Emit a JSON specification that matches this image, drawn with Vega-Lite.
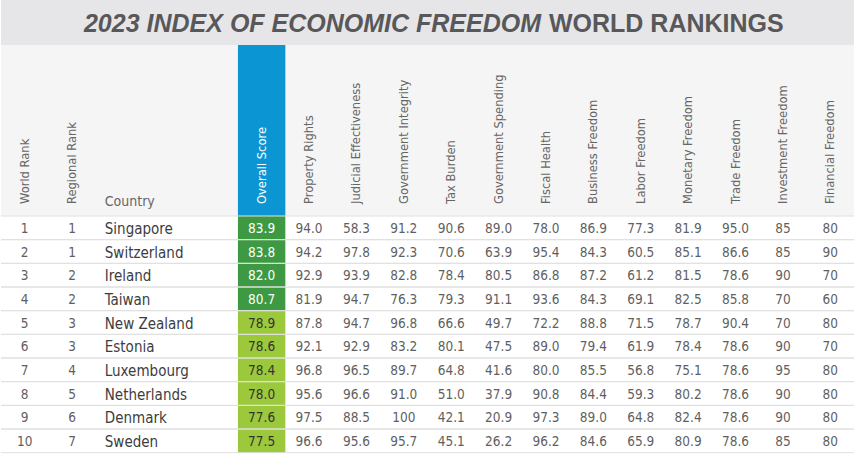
{
  "$schema": "https://vega.github.io/schema/vega-lite/v6.json",
  "padding": 0,
  "background": "white",
  "spacing": 0,
  "bounds": "flush",
  "config": {"view": {"stroke": null}, "text": {"font": "DejaVu Sans Condensed, Liberation Sans, sans-serif"}},
  "datasets": {
    "rows": [
      {"World Rank": 1, "Regional Rank": 1, "Country": "Singapore", "Overall Score": 83.9, "Property Rights": 94.0, "Judicial Effectiveness": 58.3, "Government Integrity": 91.2, "Tax Burden": 90.6, "Government Spending": 89.0, "Fiscal Health": 78.0, "Business Freedom": 86.9, "Labor Freedom": 77.3, "Monetary Freedom": 81.9, "Trade Freedom": 95.0, "Investment Freedom": 85, "Financial Freedom": 80},
      {"World Rank": 2, "Regional Rank": 1, "Country": "Switzerland", "Overall Score": 83.8, "Property Rights": 94.2, "Judicial Effectiveness": 97.8, "Government Integrity": 92.3, "Tax Burden": 70.6, "Government Spending": 63.9, "Fiscal Health": 95.4, "Business Freedom": 84.3, "Labor Freedom": 60.5, "Monetary Freedom": 85.1, "Trade Freedom": 86.6, "Investment Freedom": 85, "Financial Freedom": 90},
      {"World Rank": 3, "Regional Rank": 2, "Country": "Ireland", "Overall Score": 82.0, "Property Rights": 92.9, "Judicial Effectiveness": 93.9, "Government Integrity": 82.8, "Tax Burden": 78.4, "Government Spending": 80.5, "Fiscal Health": 86.8, "Business Freedom": 87.2, "Labor Freedom": 61.2, "Monetary Freedom": 81.5, "Trade Freedom": 78.6, "Investment Freedom": 90, "Financial Freedom": 70},
      {"World Rank": 4, "Regional Rank": 2, "Country": "Taiwan", "Overall Score": 80.7, "Property Rights": 81.9, "Judicial Effectiveness": 94.7, "Government Integrity": 76.3, "Tax Burden": 79.3, "Government Spending": 91.1, "Fiscal Health": 93.6, "Business Freedom": 84.3, "Labor Freedom": 69.1, "Monetary Freedom": 82.5, "Trade Freedom": 85.8, "Investment Freedom": 70, "Financial Freedom": 60},
      {"World Rank": 5, "Regional Rank": 3, "Country": "New Zealand", "Overall Score": 78.9, "Property Rights": 87.8, "Judicial Effectiveness": 94.7, "Government Integrity": 96.8, "Tax Burden": 66.6, "Government Spending": 49.7, "Fiscal Health": 72.2, "Business Freedom": 88.8, "Labor Freedom": 71.5, "Monetary Freedom": 78.7, "Trade Freedom": 90.4, "Investment Freedom": 70, "Financial Freedom": 80},
      {"World Rank": 6, "Regional Rank": 3, "Country": "Estonia", "Overall Score": 78.6, "Property Rights": 92.1, "Judicial Effectiveness": 92.9, "Government Integrity": 83.2, "Tax Burden": 80.1, "Government Spending": 47.5, "Fiscal Health": 89.0, "Business Freedom": 79.4, "Labor Freedom": 61.9, "Monetary Freedom": 78.4, "Trade Freedom": 78.6, "Investment Freedom": 90, "Financial Freedom": 70},
      {"World Rank": 7, "Regional Rank": 4, "Country": "Luxembourg", "Overall Score": 78.4, "Property Rights": 96.8, "Judicial Effectiveness": 96.5, "Government Integrity": 89.7, "Tax Burden": 64.8, "Government Spending": 41.6, "Fiscal Health": 80.0, "Business Freedom": 85.5, "Labor Freedom": 56.8, "Monetary Freedom": 75.1, "Trade Freedom": 78.6, "Investment Freedom": 95, "Financial Freedom": 80},
      {"World Rank": 8, "Regional Rank": 5, "Country": "Netherlands", "Overall Score": 78.0, "Property Rights": 95.6, "Judicial Effectiveness": 96.6, "Government Integrity": 91.0, "Tax Burden": 51.0, "Government Spending": 37.9, "Fiscal Health": 90.8, "Business Freedom": 84.4, "Labor Freedom": 59.3, "Monetary Freedom": 80.2, "Trade Freedom": 78.6, "Investment Freedom": 90, "Financial Freedom": 80},
      {"World Rank": 9, "Regional Rank": 6, "Country": "Denmark", "Overall Score": 77.6, "Property Rights": 97.5, "Judicial Effectiveness": 88.5, "Government Integrity": 100, "Tax Burden": 42.1, "Government Spending": 20.9, "Fiscal Health": 97.3, "Business Freedom": 89.0, "Labor Freedom": 64.8, "Monetary Freedom": 82.4, "Trade Freedom": 78.6, "Investment Freedom": 90, "Financial Freedom": 80},
      {"World Rank": 10, "Regional Rank": 7, "Country": "Sweden", "Overall Score": 77.5, "Property Rights": 96.6, "Judicial Effectiveness": 95.6, "Government Integrity": 95.7, "Tax Burden": 45.1, "Government Spending": 26.2, "Fiscal Health": 96.2, "Business Freedom": 84.6, "Labor Freedom": 65.9, "Monetary Freedom": 80.9, "Trade Freedom": 78.6, "Investment Freedom": 85, "Financial Freedom": 80}
    ],
    "headers": [
      {"column": "World Rank"}, {"column": "Regional Rank"}, {"column": "Country"}, {"column": "Overall Score"},
      {"column": "Property Rights"}, {"column": "Judicial Effectiveness"}, {"column": "Government Integrity"},
      {"column": "Tax Burden"}, {"column": "Government Spending"}, {"column": "Fiscal Health"},
      {"column": "Business Freedom"}, {"column": "Labor Freedom"}, {"column": "Monetary Freedom"},
      {"column": "Trade Freedom"}, {"column": "Investment Freedom"}, {"column": "Financial Freedom"}
    ],
    "title": [
      {"part": "2023 INDEX OF ECONOMIC FREEDOM", "role": "lead"},
      {"part": "WORLD RANKINGS", "role": "tail"}
    ]
  },
  "vconcat": [
    {
      "width": 853,
      "height": 45,
      "view": {"fill": "#e6e6e8", "stroke": null},
      "data": {"name": "title"},
      "layer": [
        {
          "transform": [{"filter": "datum.role == 'lead'"}],
          "mark": {"type": "text", "align": "right", "baseline": "middle", "dx": -313, "dy": -21, "font": "Liberation Sans", "fontSize": 25, "fontWeight": "bold", "fontStyle": "italic", "color": "#58585a"},
          "encoding": {"x": {"value": "width"}, "y": {"value": "height"}, "text": {"field": "part"}}
        },
        {
          "transform": [{"filter": "datum.role == 'tail'"}],
          "mark": {"type": "text", "align": "left", "baseline": "middle", "dx": -305, "dy": -21, "font": "Liberation Sans", "fontSize": 25, "fontWeight": "bold", "color": "#58585a"},
          "encoding": {"x": {"value": "width"}, "y": {"value": "height"}, "text": {"field": "part"}}
        }
      ]
    },
    {
      "width": 853,
      "height": 171,
      "view": {"fill": "#f5f5f5", "stroke": null},
      "data": {"name": "headers"},
      "layer": [
        {
          "transform": [{"filter": "datum.column == 'Overall Score'"}],
          "mark": {"type": "rect", "color": "#0b95d3"},
          "encoding": {
            "x": {"field": "column", "type": "nominal", "axis": null, "scale": {"type": "band", "paddingInner": 0, "paddingOuter": 0, "domain": ["World Rank", "Regional Rank", "Country", "_g1", "_g2", "Overall Score", "Property Rights", "Judicial Effectiveness", "Government Integrity", "Tax Burden", "Government Spending", "Fiscal Health", "Business Freedom", "Labor Freedom", "Monetary Freedom", "Trade Freedom", "Investment Freedom", "Financial Freedom"]}}
          }
        },
        {
          "transform": [{"filter": "datum.column != 'Country'"}],
          "mark": {"type": "text", "angle": 270, "align": "left", "baseline": "middle", "dx": 12, "fontSize": 12.8},
          "encoding": {
            "x": {"field": "column", "type": "nominal", "axis": null},
            "y": {"value": "height"},
            "text": {"field": "column"},
            "color": {"condition": {"test": "datum.column == 'Overall Score'", "value": "white"}, "value": "#666666"}
          }
        },
        {
          "transform": [{"filter": "datum.column == 'Country'"}],
          "mark": {"type": "text", "align": "left", "baseline": "alphabetic", "dx": 9, "dy": -10, "fontSize": 14, "color": "#666666"},
          "encoding": {
            "x": {"field": "column", "type": "nominal", "axis": null, "bandPosition": 0},
            "y": {"value": "height"},
            "text": {"field": "column"}
          }
        }
      ]
    },
    {
      "width": 853,
      "height": 239,
      "view": {"fill": "white", "stroke": null},
      "data": {"name": "rows"},
      "layer": [
        {
          "mark": {"type": "rect"},
          "encoding": {
            "x": {"datum": "Overall Score", "type": "nominal", "axis": null, "scale": {"type": "band", "paddingInner": 0, "paddingOuter": 0, "domain": ["World Rank", "Regional Rank", "Country", "_g1", "_g2", "Overall Score", "Property Rights", "Judicial Effectiveness", "Government Integrity", "Tax Burden", "Government Spending", "Fiscal Health", "Business Freedom", "Labor Freedom", "Monetary Freedom", "Trade Freedom", "Investment Freedom", "Financial Freedom"]}},
            "y": {"field": "World Rank", "type": "ordinal", "axis": null, "scale": {"type": "band", "paddingInner": 0, "paddingOuter": 0.049, "align": 0}},
            "color": {"condition": {"test": "datum['Overall Score'] >= 80", "value": "#3d9a42"}, "value": "#9cc83b"}
          }
        },
        {
          "mark": {"type": "rule", "color": "#e0e0e0", "strokeWidth": 1},
          "encoding": {"y": {"field": "World Rank", "type": "ordinal", "axis": null, "bandPosition": 1}}
        },
        {
          "mark": {"type": "rule", "color": "#e0e0e0", "strokeWidth": 1},
          "encoding": {"y": {"field": "World Rank", "type": "ordinal", "axis": null, "bandPosition": 0}}
        },
        {
          "transform": [{"fold": ["World Rank", "Regional Rank", "Property Rights", "Judicial Effectiveness", "Government Integrity", "Tax Burden", "Government Spending", "Fiscal Health", "Business Freedom", "Labor Freedom", "Monetary Freedom", "Trade Freedom", "Investment Freedom", "Financial Freedom"], "as": ["column", "value"]}],
          "mark": {"type": "text", "align": "center", "baseline": "middle", "dy": 1, "fontSize": 13.5, "color": "#5f5f5f"},
          "encoding": {
            "x": {"field": "column", "type": "nominal", "axis": null},
            "y": {"field": "World Rank", "type": "ordinal", "axis": null},
            "text": {"condition": {"test": "datum.value == 100 || datum.column == 'Investment Freedom' || datum.column == 'Financial Freedom' || datum.column == 'World Rank' || datum.column == 'Regional Rank'", "field": "value", "type": "quantitative", "format": "d"}, "field": "value", "type": "quantitative", "format": ".1f"}
          }
        },
        {
          "mark": {"type": "text", "align": "center", "baseline": "middle", "dy": 1, "fontSize": 13.5},
          "encoding": {
            "x": {"datum": "Overall Score", "type": "nominal", "axis": null},
            "y": {"field": "World Rank", "type": "ordinal", "axis": null},
            "text": {"field": "Overall Score", "type": "quantitative", "format": ".1f"},
            "color": {"condition": {"test": "datum['Overall Score'] >= 80", "value": "white"}, "value": "#333333"}
          }
        },
        {
          "mark": {"type": "text", "align": "left", "baseline": "middle", "dx": 9, "dy": 1, "fontSize": 15, "color": "#3d3d3d"},
          "encoding": {
            "x": {"datum": "Country", "type": "nominal", "axis": null, "bandPosition": 0},
            "y": {"field": "World Rank", "type": "ordinal", "axis": null},
            "text": {"field": "Country"}
          }
        }
      ]
    }
  ]
}
